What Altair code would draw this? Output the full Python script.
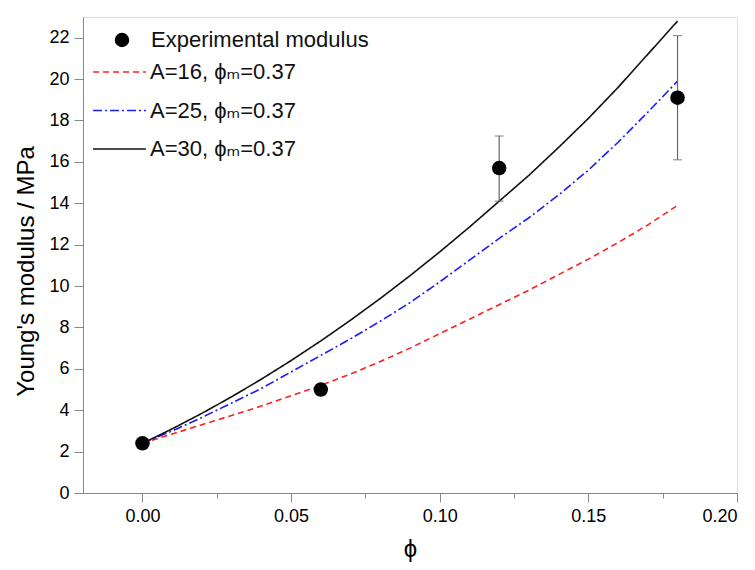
import altair as alt
import pandas as pd

# ---- data ----
phi_grid = [0.00, 0.01, 0.02, 0.03, 0.04, 0.05, 0.06, 0.07, 0.08, 0.09,
            0.10, 0.11, 0.12, 0.13, 0.14, 0.15, 0.16, 0.17, 0.18]
model_A16 = [2.40, 2.85, 3.30, 3.75, 4.20, 4.70, 5.20, 5.75, 6.35, 7.00,
             7.70, 8.40, 9.10, 9.80, 10.55, 11.30, 12.10, 12.95, 13.90]
model_A25 = [2.40, 3.00, 3.65, 4.35, 5.05, 5.85, 6.65, 7.45, 8.30, 9.20,
             10.20, 11.25, 12.30, 13.30, 14.40, 15.60, 16.95, 18.40, 19.90]
model_A30 = [2.40, 3.10, 3.85, 4.65, 5.50, 6.40, 7.35, 8.35, 9.40, 10.50,
             11.65, 12.85, 14.10, 15.35, 16.70, 18.10, 19.60, 21.20, 22.80]
series_labels = ["A=16, \u03d5\u2098=0.37", "A=25, \u03d5\u2098=0.37", "A=30, \u03d5\u2098=0.37"]
series_colors = ["#ff2020", "#1a1aff", "#111111"]
series_dash = [[6, 4], [9, 3, 2, 3], [1, 0]]

exp_phi = [0.00, 0.06, 0.12, 0.18]
exp_E = [2.4, 5.0, 15.7, 19.1]
err_phi = [0.12, 0.18]
err_lo = [14.1, 16.1]
err_hi = [17.25, 22.1]
exp_label = "Experimental modulus"

x_ticks = [0.00, 0.05, 0.10, 0.15, 0.20]
x_minor = [0.025, 0.075, 0.125, 0.175]
y_ticks = [0, 2, 4, 6, 8, 10, 12, 14, 16, 18, 20, 22]

FONT = "Liberation Sans, Arial, DejaVu Sans"

# ---- tables ----
lines_df = pd.DataFrame({
    "phi": phi_grid * 3,
    "E": model_A16 + model_A25 + model_A30,
    "series": [series_labels[0]] * len(phi_grid)
    + [series_labels[1]] * len(phi_grid)
    + [series_labels[2]] * len(phi_grid),
})
pts_df = pd.DataFrame({"phi": exp_phi, "E": exp_E, "kind": [exp_label] * len(exp_phi)})
err_df = pd.DataFrame({"phi": err_phi, "lo": err_lo, "hi": err_hi})

xscale = alt.Scale(domain=[-0.02, 0.20], nice=False, zero=False)
yscale = alt.Scale(domain=[0, 23], nice=False)

x_axis = alt.Axis(values=x_ticks, format=".2f", orient="bottom", tickSize=9,
                  labelFontSize=18, labelPadding=5,
                  title="\u03d5", titleFontSize=24, titlePadding=12,
                  titleFontWeight="normal", grid=False)
x_minor_axis = alt.Axis(values=x_minor, orient="bottom", tickSize=5, labels=False,
                        domain=False, title=None, grid=False)
y_axis = alt.Axis(values=y_ticks, tickSize=9, labelFontSize=18, labelPadding=5,
                  title="Young's modulus / MPa", titleFontSize=24, titlePadding=10,
                  titleY=254, titleFontWeight="normal", grid=False)

legend_common = dict(orient="none", title=None, labelFontSize=22, labelFont=FONT,
                     labelColor="#111", padding=0, labelLimit=0)

line_legend = alt.Legend(legendX=9, legendY=44, symbolSize=2800, symbolStrokeWidth=1.6,
                         labelOffset=3, rowPadding=16.5, clipHeight=22, **legend_common)

lines = alt.Chart(lines_df).mark_line(strokeWidth=1.6, clip=True).encode(
    x=alt.X("phi:Q", scale=xscale, axis=x_axis),
    y=alt.Y("E:Q", scale=yscale, axis=y_axis),
    color=alt.Color("series:N", scale=alt.Scale(domain=series_labels, range=series_colors),
                    legend=line_legend),
    strokeDash=alt.StrokeDash("series:N",
                              scale=alt.Scale(domain=series_labels, range=series_dash),
                              legend=line_legend),
)

err_rule = alt.Chart(err_df).mark_rule(color="#666666", strokeWidth=1.2).encode(
    x=alt.X("phi:Q", scale=xscale, axis=None), y=alt.Y("lo:Q", scale=yscale), y2="hi:Q")
cap_lo = alt.Chart(err_df).mark_tick(color="#666666", thickness=1.2, size=9,
                                     orient="horizontal").encode(
    x=alt.X("phi:Q", scale=xscale, axis=None), y=alt.Y("lo:Q", scale=yscale))
cap_hi = alt.Chart(err_df).mark_tick(color="#666666", thickness=1.2, size=9,
                                     orient="horizontal").encode(
    x=alt.X("phi:Q", scale=xscale, axis=None), y=alt.Y("hi:Q", scale=yscale))

points = alt.Chart(pts_df).mark_point(filled=True, size=210, opacity=1, color="black").encode(
    x=alt.X("phi:Q", scale=xscale, axis=x_minor_axis),
    y=alt.Y("E:Q", scale=yscale),
    shape=alt.Shape("kind:N", scale=alt.Scale(domain=[exp_label], range=["circle"]),
                    legend=alt.Legend(legendX=28, legendY=12, symbolSize=210,
                                      symbolFillColor="black", symbolStrokeColor="black",
                                      labelOffset=18, **legend_common)),
)

chart = alt.layer(lines, err_rule, cap_lo, cap_hi, points).resolve_scale(
    x="shared"
).resolve_axis(x="independent").properties(
    width=654, height=476,
    autosize=alt.AutoSizeParams(type="none"),
    padding={"left": 75, "top": 9, "right": 10, "bottom": 78},
).configure_view(
    stroke="#222", strokeWidth=1.5
).configure_axis(
    labelFont=FONT, titleFont=FONT, labelColor="#111", titleColor="#111",
    domainColor="#222", tickColor="#222", domainWidth=1.5, tickWidth=1.3,
).configure(background="white")

chart.save("out.html", embed_options={"renderer": "svg", "actions": False})
